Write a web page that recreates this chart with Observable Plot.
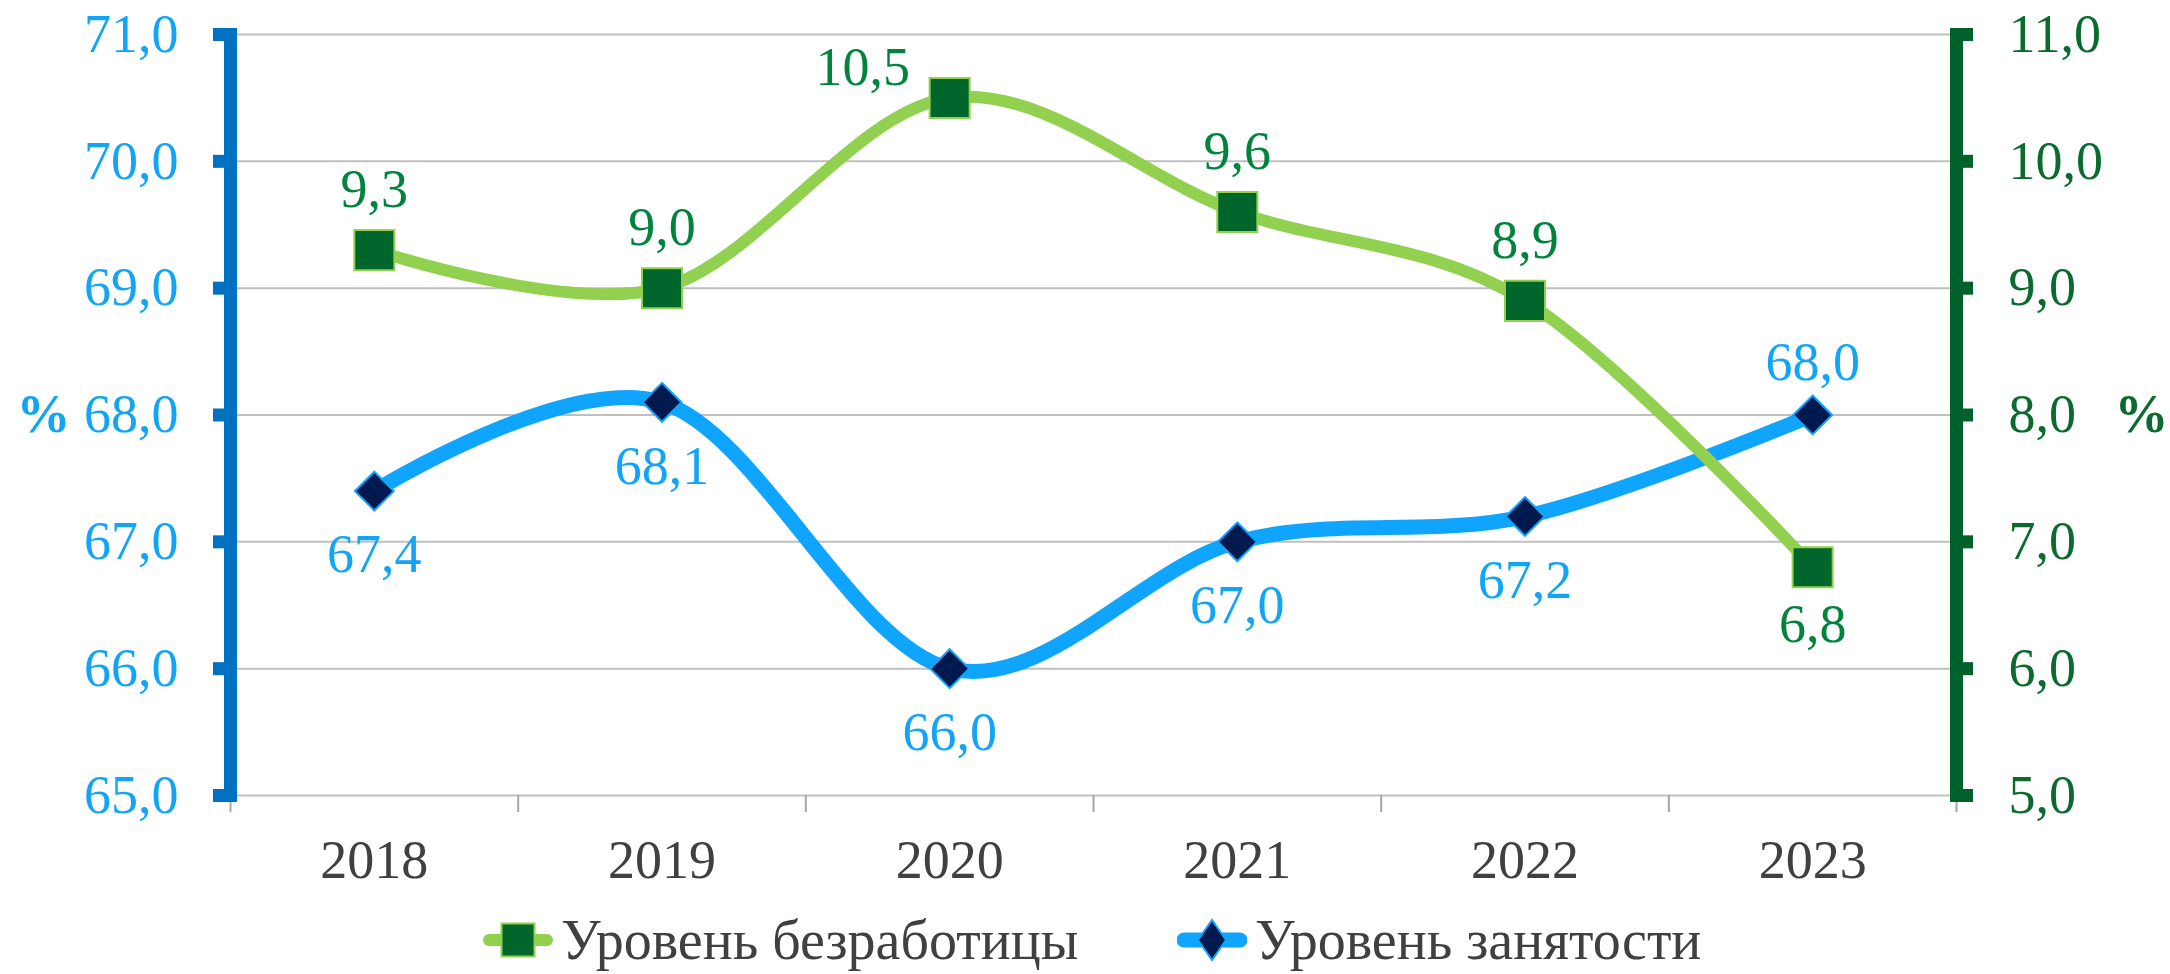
<!DOCTYPE html>
<html><head><meta charset="utf-8">
<script src="https://cdn.jsdelivr.net/npm/d3@7"></script>
<script src="https://cdn.jsdelivr.net/npm/@observablehq/plot@0.6"></script>
<style>
body{margin:0;background:#fff;}
#wrap{width:2170px;height:974px;position:relative;overflow:hidden;background:#fff;}
#legend{position:relative;height:74px;font-family:"Liberation Serif",serif;font-size:56px;color:#404040;}
.item{position:absolute;top:0;height:80px;display:flex;align-items:center;line-height:1;white-space:nowrap;}
.item svg{display:block;margin-right:8px;}
</style></head>
<body><div id="wrap"><div id="chart"></div><div id="legend"></div></div>
<script>
const years = [2018, 2019, 2020, 2021, 2022, 2023];
const unemployment = [9.3, 9.0, 10.5, 9.6, 8.9, 6.8];
const employment = [67.4, 68.1, 66.0, 67.0, 67.2, 68.0];
const leftTicks = [65, 66, 67, 68, 69, 70, 71];
const rightTicks = [5, 6, 7, 8, 9, 10, 11];
const seriesNames = ["Уровень безработицы", "Уровень занятости"];
const axisUnit = "%";

const shift = leftTicks[0] - rightTicks[0];
const fmt = v => v.toFixed(1).replace(".", ",");
const last = years.length - 1;
const unempRows = years.map((year, i) => ({year, i, value: unemployment[i], y: unemployment[i] + shift}));
const empRows = years.map((year, i) => ({year, i, value: employment[i], y: employment[i]}));
const maxU = d3.max(unemployment);
const boundaries = years.map(y => y - 0.5).concat([years[last] + 0.5]);

const C = {
  blueAxis: "#0070C0", blueText: "#12A5F5", blueLine: "#0FA5FF", navy: "#001A4F",
  greenAxis: "#00612D", greenTick: "#0B6B2E", greenText: "#00843D", greenLine: "#92D050", greenFill: "#00662B",
  grid: "#bfbfbf", gray: "#a6a6a6", text: "#404040"
};
const FS = 54;

const chart = Plot.plot({
  width: 2170, height: 900,
  marginLeft: 230, marginRight: 214, marginTop: 34, marginBottom: 105,
  style: {fontFamily: "'Liberation Serif', serif", background: "#fff"},
  x: {domain: [boundaries[0], boundaries[boundaries.length - 1]], label: null},
  y: {domain: [leftTicks[0], leftTicks[leftTicks.length - 1]], label: null},
  marks: [
    Plot.gridY(leftTicks, {stroke: C.grid, strokeOpacity: 1, strokeWidth: 2}),
    Plot.axisX(boundaries, {tickSize: 17, stroke: C.gray, strokeWidth: 2, tickFormat: () => "", label: null}),
    Plot.axisX(years, {tickSize: 0, tickPadding: 44, tickFormat: "d", fontSize: FS, fill: C.text, label: null}),
    Plot.axisY(leftTicks, {anchor: "left", tickSize: 17, tickPadding: 35, stroke: C.blueAxis, strokeWidth: 13,
      fill: C.blueText, fontSize: FS, tickFormat: fmt, label: null}),
    Plot.frame({anchor: "left", stroke: C.blueAxis, strokeWidth: 13, strokeLinecap: "square"}),
    Plot.axisY(leftTicks, {anchor: "right", tickSize: 16, tickPadding: 36, stroke: C.greenAxis, strokeWidth: 13,
      fill: C.greenTick, fontSize: FS, tickFormat: d => fmt(d - shift), label: null}),
    Plot.frame({anchor: "right", stroke: C.greenAxis, strokeWidth: 13, strokeLinecap: "square"}),
    Plot.text([axisUnit], {text: d => d, frameAnchor: "left", textAnchor: "middle", dx: -187, fontWeight: "bold", fill: C.blueText, fontSize: FS}),
    Plot.text([axisUnit], {text: d => d, frameAnchor: "right", textAnchor: "middle", dx: 185, fontWeight: "bold", fill: C.greenTick, fontSize: FS}),
    // employment
    Plot.line(empRows, {x: "year", y: "y", stroke: C.blueLine, strokeWidth: 15, curve: "cardinal", tension: 0}),
    Plot.dot(empRows, {x: "year", y: "y", symbol: "diamond2", r: 17.5, fill: C.navy, stroke: C.blueLine, strokeWidth: 2}),
    // unemployment
    Plot.line(unempRows, {x: "year", y: "y", stroke: C.greenLine, strokeWidth: 12, curve: "cardinal", tension: 0}),
    Plot.dot(unempRows, {x: "year", y: "y", symbol: "square", r: 22.6, fill: C.greenFill, stroke: C.greenLine, strokeWidth: 2}),
    // labels
    Plot.text(unempRows, {filter: d => d.i !== last && d.value !== maxU, x: "year", y: "y", text: d => fmt(d.value), dy: -60, fill: C.greenText, fontSize: FS}),
    Plot.text(unempRows, {filter: d => d.value === maxU, x: "year", y: "y", text: d => fmt(d.value), dx: -87, dy: -30, fill: C.greenText, fontSize: FS}),
    Plot.text(unempRows, {filter: d => d.i === last, x: "year", y: "y", text: d => fmt(d.value), dy: 58, fill: C.greenText, fontSize: FS}),
    Plot.text(empRows, {filter: d => d.i !== last, x: "year", y: "y", text: d => fmt(d.value), dy: 64, fill: C.blueText, fontSize: FS}),
    Plot.text(empRows, {filter: d => d.i === last, x: "year", y: "y", text: d => fmt(d.value), dy: -52, fill: C.blueText, fontSize: FS})
  ]
});
document.getElementById("chart").appendChild(chart);

const legend = document.getElementById("legend");
const items = [
  {name: seriesNames[0], left: 483,
   svg: `<svg width="70" height="44"><line x1="6" y1="22" x2="64" y2="22" stroke="${C.greenLine}" stroke-width="12" stroke-linecap="round"/><rect x="18.5" y="5.5" width="33" height="33" fill="${C.greenFill}" stroke="${C.greenLine}" stroke-width="2"/></svg>`},
  {name: seriesNames[1], left: 1177,
   svg: `<svg width="70" height="44"><line x1="7" y1="22" x2="63" y2="22" stroke="${C.blueLine}" stroke-width="15" stroke-linecap="round"/><polygon points="35,2 49,22 35,42 21,22" fill="${C.navy}" stroke="${C.blueLine}" stroke-width="2"/></svg>`}
];
for (const it of items) {
  const div = document.createElement("div");
  div.className = "item";
  div.style.left = it.left + "px";
  div.innerHTML = it.svg + `<span>${it.name}</span>`;
  legend.appendChild(div);
}
</script>
</body></html>
